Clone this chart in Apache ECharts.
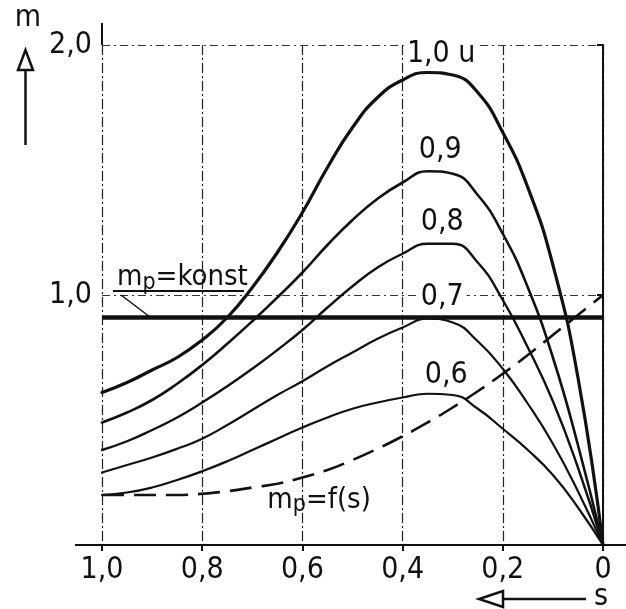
<!DOCTYPE html>
<html>
<head>
<meta charset="utf-8">
<script src="https://cdn.jsdelivr.net/npm/echarts@6/dist/echarts.min.js"></script>
<style>
html,body{margin:0;padding:0;background:#fff;}
#main{width:626px;height:609px;}
</style>
</head>
<body>
<div id="main"></div>
<script>
// Schlupf s (x) und Moment m (y)
var slip = [1.0, 0.95, 0.9, 0.85, 0.8, 0.75, 0.7, 0.65, 0.6, 0.55, 0.5,
            0.45, 0.4, 0.35, 0.3, 0.25, 0.2, 0.15, 0.1, 0.05, 0];
var m10 = [0.61, 0.65, 0.70, 0.75, 0.82, 0.91, 1.03, 1.17, 1.33, 1.51, 1.67,
           1.79, 1.86, 1.89, 1.88, 1.81, 1.65, 1.43, 1.12, 0.67, 0];
var m09 = [0.49, 0.53, 0.58, 0.645, 0.72, 0.805, 0.895, 0.99, 1.09, 1.20, 1.30,
           1.385, 1.45, 1.495, 1.485, 1.40, 1.245, 1.03, 0.75, 0.40, 0];
var m08 = [0.38, 0.415, 0.46, 0.51, 0.57, 0.635, 0.705, 0.78, 0.86, 0.95, 1.035,
           1.11, 1.165, 1.205, 1.205, 1.13, 0.98, 0.79, 0.575, 0.31, 0];
var m07 = [0.29, 0.32, 0.35, 0.385, 0.425, 0.48, 0.54, 0.60, 0.655, 0.715, 0.77,
           0.825, 0.87, 0.905, 0.89, 0.815, 0.705, 0.565, 0.405, 0.215, 0];
var m06 = [0.20, 0.21, 0.23, 0.26, 0.295, 0.335, 0.38, 0.425, 0.47, 0.51, 0.545,
           0.57, 0.59, 0.605, 0.60, 0.545, 0.465, 0.38, 0.28, 0.15, 0];
var mpf = [0.20, 0.20, 0.20, 0.20, 0.205, 0.215, 0.23, 0.245, 0.27, 0.30, 0.34,
           0.385, 0.435, 0.49, 0.55, 0.615, 0.685, 0.76, 0.84, 0.92, 1.0];
var mpKonst = 0.91;

var curveNames = ['1,0 u', '0,9', '0,8', '0,7', '0,6'];
var xTickLabels = ['0', '0,2', '0,4', '0,6', '0,8', '1,0'];
var yTickLabels = ['', '1,0', '2,0'];

var FONT = '"DejaVu Sans Condensed", "Liberation Sans Narrow", "DejaVu Sans", sans-serif';
var INK = '#111';

function pairs(ys) {
  return slip.map(function (s, i) { return [s, ys[i]]; });
}

function curve(ys, w) {
  return {
    type: 'line', data: pairs(ys), smooth: 0.5, symbol: 'none', silent: true,
    lineStyle: { color: INK, width: w, join: 'round', cap: 'round' }
  };
}

var chart = echarts.init(document.getElementById('main'));

var option = {
  animation: false,
  backgroundColor: '#fff',
  grid: { left: 102, right: 23, top: 45, bottom: 64 },
  xAxis: {
    type: 'value', min: 0, max: 1, interval: 0.2, inverse: true,
    axisLine: { lineStyle: { color: INK, width: 2 } },
    axisTick: { length: 6, lineStyle: { color: INK, width: 2 } },
    axisLabel: {
      margin: 10, color: INK, fontSize: 30, fontFamily: FONT,
      formatter: function (v) { return xTickLabels[Math.round(v / 0.2)]; }
    },
    splitLine: { show: true, lineStyle: { color: '#222', width: 1.2, type: [10, 3, 2, 3] } }
  },
  yAxis: {
    type: 'value', min: 0, max: 2, interval: 1,
    axisLine: { show: true, lineStyle: { color: INK, width: 2 } },
    axisTick: { show: true, length: 6, lineStyle: { color: INK, width: 2 } },
    axisLabel: {
      margin: 10, color: INK, fontSize: 30, fontFamily: FONT,
      formatter: function (v) { return yTickLabels[Math.round(v)]; }
    },
    splitLine: { show: true, lineStyle: { color: '#333', width: 1.2, type: [8, 4, 2, 4] } }
  },
  series: [
    curve(m10, 3.2),
    curve(m09, 2.6),
    curve(m08, 2.4),
    curve(m07, 2.2),
    curve(m06, 2.2),
    {
      type: 'line', data: pairs(mpf), smooth: 0.5, symbol: 'none', silent: true,
      lineStyle: { color: INK, width: 2.6, type: [22, 10] }
    },
    {
      type: 'line', data: [[1, mpKonst], [0, mpKonst]], symbol: 'none', silent: true,
      lineStyle: { color: INK, width: 4.5 }
    }
  ]
};
chart.setOption(option);

function px(s, m) {
  return chart.convertToPixel({ xAxisIndex: 0, yAxisIndex: 0 }, [s, m]);
}

var origin = px(1, 0), rightEnd = px(0, 0), topEnd = px(1, 2);
var big = '30px ' + FONT;

function label(text, s, m, bg) {
  var p = px(s, m);
  return {
    type: 'text', x: p[0], y: p[1], z: 10,
    style: {
      text: text, font: big, fill: INK, align: 'center', verticalAlign: 'middle',
      backgroundColor: bg ? '#fff' : null, padding: bg ? [0, 3] : 0
    }
  };
}

var subRich = {
  b: { font: '29px ' + FONT, fill: INK, lineHeight: 34 },
  p: { font: '23px ' + FONT, fill: INK, lineHeight: 23, verticalAlign: 'bottom', padding: [12, 0, 0, 0] }
};

var kp = px(0.97, 1.07);
var fp = px(0.67, 0.18);

var graphics = [
  // Achsenverlaengerungen
  { type: 'line', shape: { x1: origin[0], y1: topEnd[1], x2: origin[0], y2: 23 }, style: { stroke: INK, lineWidth: 2 } },
  { type: 'line', shape: { x1: 75, y1: origin[1], x2: origin[0], y2: origin[1] }, style: { stroke: INK, lineWidth: 2 } },
  { type: 'line', shape: { x1: rightEnd[0], y1: origin[1], x2: 626, y2: origin[1] }, style: { stroke: INK, lineWidth: 2 } },
  // m mit Pfeil
  { type: 'text', x: 28, y: 18, style: { text: 'm', font: big, fill: INK, align: 'center', verticalAlign: 'middle' } },
  { type: 'line', shape: { x1: 25.5, y1: 145, x2: 25.5, y2: 70 }, style: { stroke: INK, lineWidth: 2.5 } },
  { type: 'polygon', shape: { points: [[18, 70], [33, 70], [25.5, 50]] }, style: { stroke: INK, fill: '#fff', lineWidth: 2.5 } },
  // s mit Pfeil
  { type: 'text', x: 601, y: 597, style: { text: 's', font: big, fill: INK, align: 'center', verticalAlign: 'middle' } },
  { type: 'line', shape: { x1: 503, y1: 599, x2: 586, y2: 599 }, style: { stroke: INK, lineWidth: 2.5 } },
  { type: 'polygon', shape: { points: [[503, 591], [503, 607], [479, 599]] }, style: { stroke: INK, fill: '#fff', lineWidth: 2.5 } },
  // Kurvenbeschriftung
  label(curveNames[0], 0.323, 1.965, true),
  label(curveNames[1], 0.325, 1.58, false),
  label(curveNames[2], 0.321, 1.29, false),
  label(curveNames[3], 0.321, 0.99, true),
  label(curveNames[4], 0.313, 0.68, false),
  {
    type: 'text', x: kp[0], y: kp[1], z: 10,
    style: { text: '{b|m}{p|p}{b|=konst}', rich: subRich, align: 'left', verticalAlign: 'middle' }
  },
  { type: 'line', shape: { x1: 113, y1: 291, x2: 244, y2: 291 }, style: { stroke: INK, lineWidth: 2 } },
  { type: 'line', shape: { x1: 121, y1: 295, x2: 150, y2: 317 }, style: { stroke: INK, lineWidth: 1.5 } },
  {
    type: 'text', x: fp[0], y: fp[1], z: 10,
    style: { text: '{b|m}{p|p}{b|=f(s)}', rich: subRich, align: 'left', verticalAlign: 'middle' }
  }
];

chart.setOption({ graphic: graphics });
</script>
</body>
</html>
